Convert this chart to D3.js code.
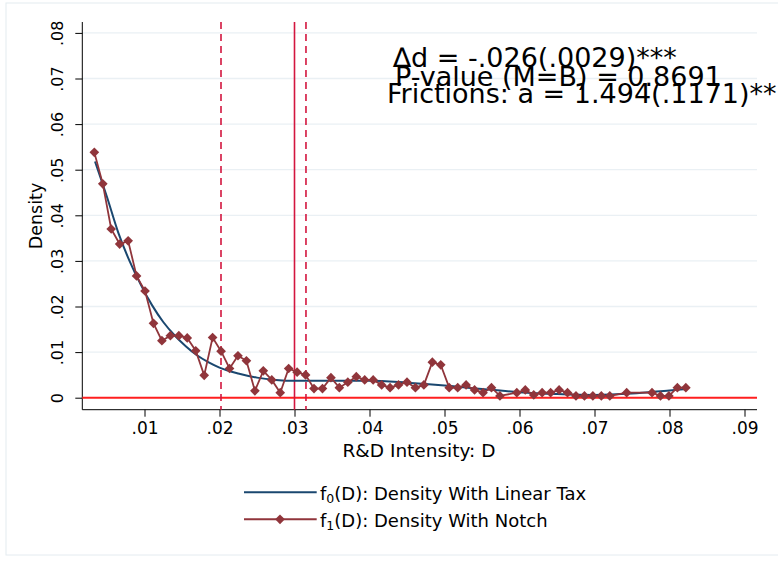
<!DOCTYPE html>
<html><head><meta charset="utf-8">
<script src="https://cdn.jsdelivr.net/npm/d3@7"></script>
<style>body{margin:0;background:#fff}svg{display:block}text{font-family:"DejaVu Sans",sans-serif}</style>
</head><body><svg id="c" width="778" height="561"></svg>
<script>
// Notch density f1(D): bin centres and densities
const notchX = [.00331,.00444,.00556,.00669,.00782,.00894,.01007,.01120,.01232,.01345,.01458,.01570,.01683,.01796,.01908,.02021,.02134,.02246,.02359,.02472,.02584,.02697,.02810,.02922,.03035,.03148,.03260,.03373,.03486,.03598,.03711,.03824,.03936,.04049,.04162,.04274,.04387,.04500,.04612,.04725,.04838,.04950,.05063,.05176,.05288,.05401,.05514,.05626,.05739,.05964,.06077,.06190,.06302,.06415,.06528,.06640,.06753,.06866,.06978,.07091,.07204,.07429,.07767,.07880,.07992,.08105,.08218];
const notchY = [.0538,.0469,.0370,.0337,.0344,.0267,.0234,.0163,.0125,.0136,.0136,.0131,.0103,.0049,.0132,.0102,.0064,.0092,.0081,.0015,.0059,.0039,.0011,.0064,.0056,.0050,.0020,.0020,.0044,.0022,.0034,.0046,.0039,.0039,.0028,.0022,.0028,.0034,.0022,.0028,.0078,.0072,.0022,.0022,.0028,.0017,.0011,.0022,.0004,.0011,.0017,.0006,.0011,.0011,.0017,.0011,.0004,.0004,.0004,.0004,.0004,.0011,.0011,.0004,.0004,.0022,.0022];
// Linear-tax counterfactual density f0(D)
const linX = [.0034,.005,.0065,.008,.0095,.011,.0125,.014,.0155,.017,.0185,.020,.0225,.025,.0275,.030,.035,.040,.045,.050,.055,.060,.065,.070,.075,.080,.0822];
const linY = [.0518,.0440,.0362,.0300,.0248,.0203,.0166,.0137,.0113,.0093,.0078,.0066,.0053,.0044,.0039,.0037,.0037,.0037,.0033,.0027,.0019,.0012,.0008,.0006,.0009,.0016,.0019];
const xTicks = [.01,.02,.03,.04,.05,.06,.07,.08,.09];
const xTickLabels = [".01",".02",".03",".04",".05",".06",".07",".08",".09"];
const yTicks = [0,.01,.02,.03,.04,.05,.06,.07,.08];
const yTickLabels = ["0",".01",".02",".03",".04",".05",".06",".07",".08"];
const notch = .03, dLow = .0202, dHigh = .03153;
const annot = ["\u2206d = -.026(.0029)***","P-value (M=B) = 0.8691","Frictions: a = 1.494(.1171)**"];

const svg = d3.select("#c");
const L = 82.3, R = 757, T = 22, B = 409.7;
const x = d3.scaleLinear().domain([0,.09]).range([69.5, 744.5]);
const y = d3.scaleLinear().domain([0,.08]).range([397.7, 32.9]);

svg.append("rect").attr("x",6).attr("y",3).attr("width",800).attr("height",552)
  .attr("fill","#fff").attr("stroke","#e4ebf0").attr("stroke-width",1);

// grid
svg.append("g").selectAll("line").data(yTicks.slice(1)).join("line")
  .attr("x1",L).attr("x2",R).attr("y1",d=>y(d)).attr("y2",d=>y(d))
  .attr("stroke","#eaf0f4").attr("stroke-width",1.3);

// axes
const ya = svg.append("g").attr("transform",`translate(${L},0)`)
  .call(d3.axisLeft(y).tickValues(yTicks).tickFormat((d,i)=>yTickLabels[i]).tickSize(7));
ya.select(".domain").attr("d",`M0,${T}V${B}`).attr("stroke","#000");
ya.selectAll(".tick text").attr("font-size",16).attr("fill","#000")
  .attr("x",0).attr("dy",0).attr("y",0).attr("text-anchor","middle")
  .attr("transform","translate(-19,0) rotate(-90)");
ya.selectAll(".tick line").attr("stroke","#000");

const xa = svg.append("g").attr("transform",`translate(0,${B})`)
  .call(d3.axisBottom(x).tickValues(xTicks).tickFormat((d,i)=>xTickLabels[i]).tickSize(7).tickPadding(5));
xa.select(".domain").attr("d",`M${L},0H${R}`).attr("stroke","#000");
xa.selectAll("text").attr("font-size",17).attr("fill","#000");
xa.selectAll(".tick line").attr("stroke","#000");

svg.append("text").attr("x",419).attr("y",457).attr("text-anchor","middle")
  .attr("font-size",18.5).text("R&D Intensity: D");
svg.append("text").attr("transform",`translate(42,216) rotate(-90)`).attr("text-anchor","middle")
  .attr("font-size",17.5).text("Density");

// zero line
svg.append("line").attr("x1",L).attr("x2",R).attr("y1",y(0)).attr("y2",y(0))
  .attr("stroke","#ff1f1f").attr("stroke-width",2);
// vertical lines
[[dLow,"7,5"],[notch,null],[dHigh,"7,5"]].forEach(([v,da])=>{
  svg.append("line").attr("x1",x(v)).attr("x2",x(v)).attr("y1",T).attr("y2",B)
    .attr("stroke","#d3163f").attr("stroke-width",1.6).attr("stroke-dasharray",da);
});

// f0 curve
const lin = linX.map((v,i)=>[v,linY[i]]);
svg.append("path").datum(lin).attr("fill","none").attr("stroke","#1a476f").attr("stroke-width",2)
  .attr("d",d3.line().x(d=>x(d[0])).y(d=>y(d[1])).curve(d3.curveMonotoneX));

// f1 connected
const nt = notchX.map((v,i)=>[v,notchY[i]]);
svg.append("path").datum(nt).attr("fill","none").attr("stroke","#90353b").attr("stroke-width",1.8)
  .attr("d",d3.line().x(d=>x(d[0])).y(d=>y(d[1])));
const diamond = d3.symbol().type(d3.symbolDiamond2).size(60);
svg.append("g").selectAll("path").data(nt).join("path")
  .attr("transform",d=>`translate(${x(d[0])},${y(d[1])})`).attr("d",diamond()).attr("fill","#90353b");

// annotation
const ax = [393,395,387], ay = [67,86,103];
annot.forEach((t,i)=>svg.append("text").attr("x",ax[i]).attr("y",ay[i]).attr("font-size",27).text(t));

// legend
svg.append("line").attr("x1",244).attr("x2",316.7).attr("y1",492.3).attr("y2",492.3).attr("stroke","#1a476f").attr("stroke-width",2);
svg.append("line").attr("x1",244).attr("x2",316.7).attr("y1",519.3).attr("y2",519.3).attr("stroke","#90353b").attr("stroke-width",2);
svg.append("path").attr("transform","translate(280,519.3)").attr("d",diamond()).attr("fill","#90353b");
const lg = [["0",": Density With Linear Tax",499.5],["1",": Density With Notch",526.5]];
lg.forEach(([s,rest,yy])=>{
  const t = svg.append("text").attr("x",320).attr("y",yy).attr("font-size",18);
  t.append("tspan").text("f");
  t.append("tspan").attr("font-size",12.5).attr("dy",3).text(s);
  t.append("tspan").attr("dy",-3).text("(D)"+rest);
});
</script></body></html>
